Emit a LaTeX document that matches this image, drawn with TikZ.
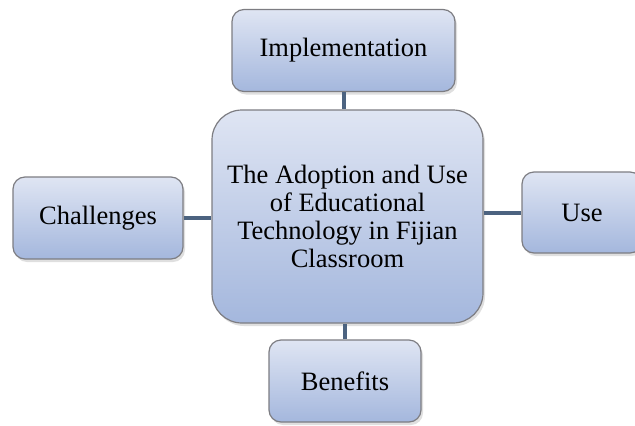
\documentclass[tikz,border=0pt]{standalone}
\usepackage{fontspec}
\setmainfont{Liberation Serif}
\usetikzlibrary{shadows}
\definecolor{boxtop}{RGB}{223,229,243}
\definecolor{boxbottom}{RGB}{164,183,221}
\definecolor{boxline}{RGB}{125,125,130}
\definecolor{linkblue}{RGB}{76,99,128}
\tikzset{
	topic/.style = {draw=boxline, line width=1.2pt, rectangle, rounded corners=12pt,
		top color=boxtop, bottom color=boxbottom, minimum height=82pt,
		drop shadow={shadow xshift=2pt, shadow yshift=-3pt, opacity=0.25},
		font=\fontsize{26.5}{28}\selectfont, align=center, inner sep=0pt},
	hub/.style     = {topic, rounded corners=30pt, minimum width=271pt,
		minimum height=213pt},
	link/.style    = {draw=linkblue, line width=4pt}
}

\begin{document}
\begin{tikzpicture}[x=1pt, y=-1pt]
	\useasboundingbox (0,0) rectangle (635,426);
	\draw
	node at (347.5,216.5) [hub] (centre) {The Adoption and Use\\of Educational\\Technology in Fijian\\Classroom}
	node at (343.5,50.5) [topic, minimum width=223pt] (impl) {Implementation}
	node at (98,218) [topic, minimum width=170pt] (chall) {Challenges}
	node at (582,212.5) [topic, minimum width=120pt, minimum height=81pt] (use) {Use}
	node at (345,381) [topic, minimum width=152pt] (benef) {Benefits};
	
	\draw[link] (impl.south) -- (impl.south |- centre.north);
	\draw[link] (chall.east) -- (chall.east -| centre.west);
	\draw[link] (use.west) -- (use.west -| centre.east);
	\draw[link] (benef.north) -- (benef.north |- centre.south);
	
\end{tikzpicture}
\end{document}
